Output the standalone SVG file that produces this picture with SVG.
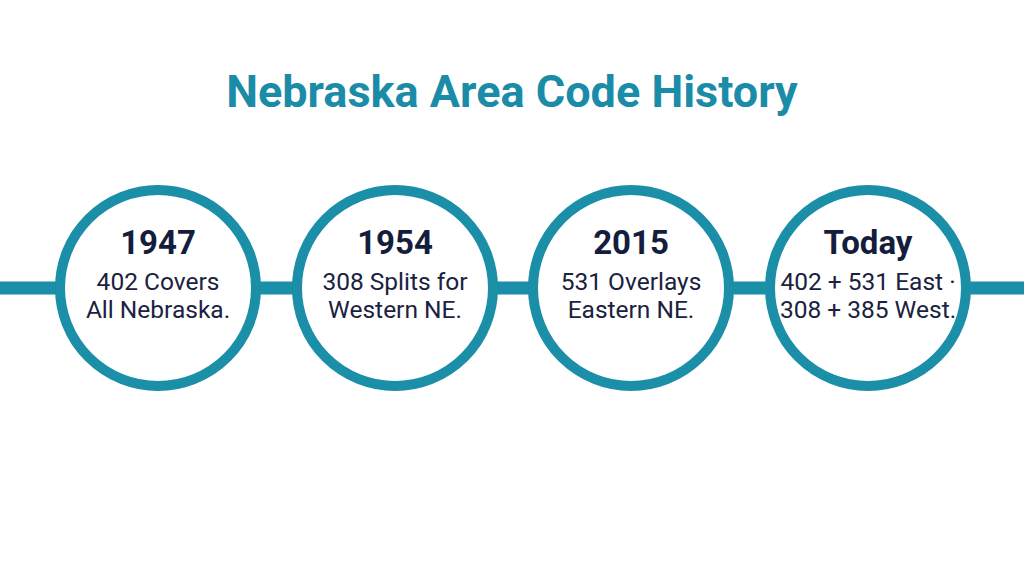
<svg xmlns="http://www.w3.org/2000/svg" width="1024" height="576" viewBox="0 0 1024 576">
<style>
.node circle{fill:#fff;stroke:#1b8ea8;stroke-width:10}
.yr{font-family:Roboto,"Liberation Sans",sans-serif;font-weight:700;font-size:33px;fill:#141d3d;text-anchor:middle}
.tx{font-family:Roboto,"Liberation Sans",sans-serif;font-size:24.5px;fill:#1a2240;text-anchor:middle}
.title{font-family:Roboto,"Liberation Sans",sans-serif;font-weight:700;font-size:45px;fill:#1b8ca8;text-anchor:middle}
</style>
<rect width="1024" height="576" fill="#fff"/>
<text class="title" x="512" y="107">Nebraska Area Code History</text>
<g id="connectors">
<line x1="0" y1="288" x2="1024" y2="288" stroke="#1b8ea8" stroke-width="13"/>
</g>
<g id="n1947" class="node">
<circle cx="158" cy="288" r="98"/>
<text class="yr" x="158" y="254">1947</text>
<text class="tx" x="158" y="290">402 Covers</text>
<text class="tx" x="158" y="318">All Nebraska.</text>
</g>
<g id="n1954" class="node">
<circle cx="395" cy="288" r="98"/>
<text class="yr" x="395" y="254">1954</text>
<text class="tx" x="395" y="290">308 Splits for</text>
<text class="tx" x="395" y="318">Western NE.</text>
</g>
<g id="n2015" class="node">
<circle cx="631" cy="288" r="98"/>
<text class="yr" x="631" y="254">2015</text>
<text class="tx" x="631" y="290">531 Overlays</text>
<text class="tx" x="631" y="318">Eastern NE.</text>
</g>
<g id="nToday" class="node">
<circle cx="868" cy="288" r="98"/>
<text class="yr" x="868" y="254">Today</text>
<text class="tx" x="868" y="290">402 + 531 East ·</text>
<text class="tx" x="868" y="318">308 + 385 West.</text>
</g>
</svg>
